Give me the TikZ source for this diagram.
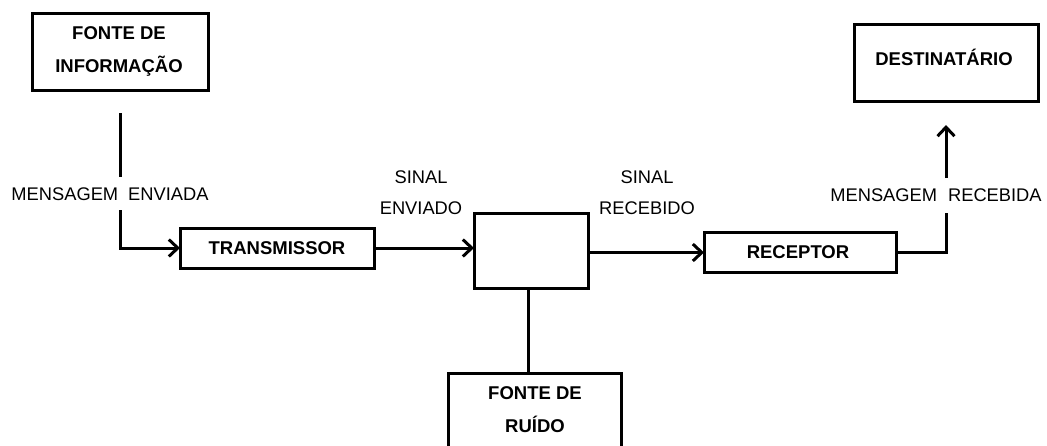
\documentclass[tikz,border=0pt]{standalone}
\usepackage{fontspec}
\setmainfont{Liberation Sans}
\usetikzlibrary{arrows.meta}
\begin{document}
\begin{tikzpicture}[x=1pt,y=-1pt,
  box/.style={draw=black,line width=3pt,minimum width=#1,inner sep=0pt,outer sep=0pt},
  btxt/.style={font=\fontsize{18.5}{33}\selectfont\bfseries,inner sep=0pt,align=center,anchor=base},
  rtxt/.style={font=\fontsize{18.3}{31}\selectfont,inner sep=0pt,align=center,anchor=base},
  conn/.style={line width=3pt},
  arr/.style={line width=3pt,-{Straight Barb[length=9pt,width=17pt,line width=3pt]}}]
\useasboundingbox (0,0) rectangle (1047,445);
\clip (0,0) rectangle (1047,445);
% boxes
\node[box=176pt,minimum height=77pt] (info) at (120,51.5) {};
\node[box=194pt,minimum height=40pt] (trans) at (277,248) {};
\node[box=114pt,minimum height=75pt] (mid) at (531,250.5) {};
\node[box=173pt,minimum height=97pt] (noise) at (534.5,421.5) {};
\node[box=192pt,minimum height=40pt] (recv) at (800,252.5) {};
\node[box=184pt,minimum height=77pt] (dest) at (946,62.5) {};
% box texts (base = last line baseline)
\node[btxt] (tinfo) at (119,72) {FONTE DE\\INFORMAÇÃO};
\node[btxt] (ttrans) at (277,254) {TRANSMISSOR};
\node[btxt] (trecv) at (798,258.5) {RECEPTOR};
\node[btxt] (tdest) at (944,65.5) {DESTINATÁRIO};
\node[btxt] (tnoise) at (535,432) {FONTE DE\\RUÍDO};
% signal labels
\node[rtxt] (lenv) at (110,200.5) {MENSAGEM\hspace{10pt}ENVIADA};
\node[rtxt] (lrec) at (936,201.5) {MENSAGEM\hspace{11pt}RECEBIDA};
\node[rtxt] (lse) at (421,214.5) {SINAL\\ENVIADO};
\node[rtxt] (lsr) at (647,214.5) {SINAL\\RECEBIDO};
% connector points
\coordinate (a1) at (120,113);
\coordinate (a2) at (120,177);
\coordinate (a3) at (120,210);
\coordinate (b1) at (946,213);
\coordinate (b2) at (946,178);
\coordinate (b3) at (946,125);
% connectors
\draw[conn] (a1) -- (a2);
\draw[arr] (a3) |- (trans.west);
\draw[arr] (trans.east) -- (trans.east -| mid.west);
\draw[arr] (mid.east |- recv.west) -- (recv.west);
\draw[conn] ([xshift=-3pt]mid.south) -- ([xshift=-3pt]mid.south |- noise.north);
\draw[conn] (recv.east) -| (b1);
\draw[arr] (b2) -- (b3);
\end{tikzpicture}
\end{document}
